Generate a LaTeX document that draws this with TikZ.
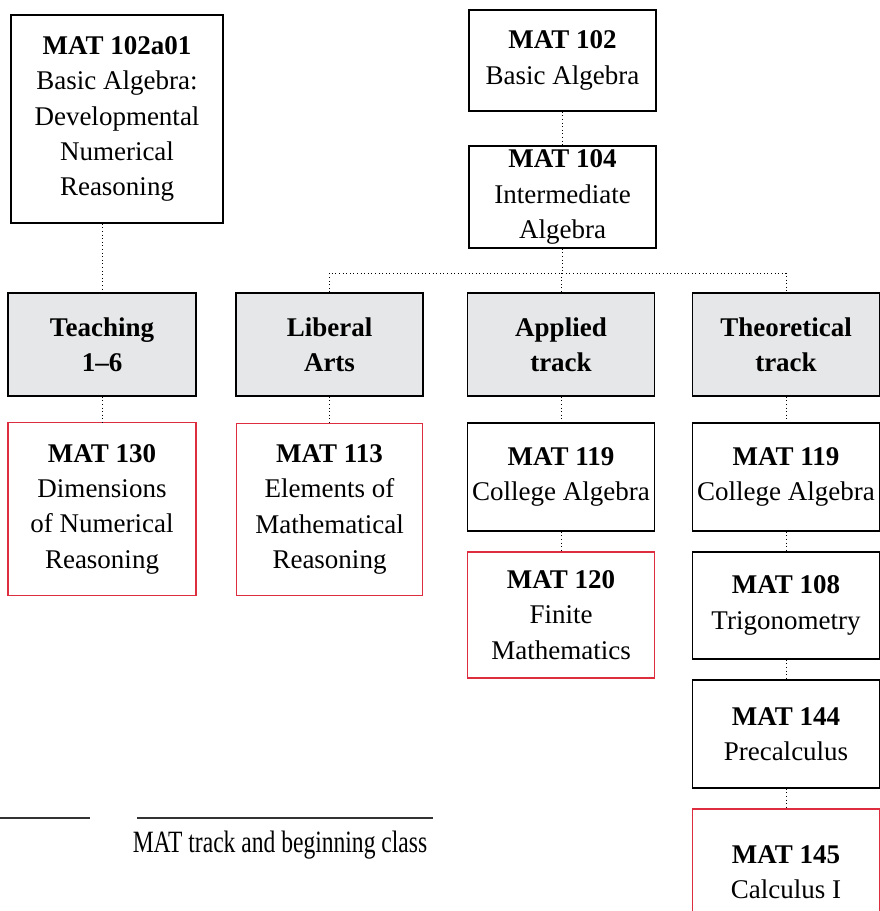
\documentclass[tikz,border=0pt]{standalone}
\usepackage{fontspec}
\setmainfont{Liberation Serif}
\usepackage{xcolor}
\usepackage{tikz}

\definecolor{trackgray}{RGB}{230,231,232}
\definecolor{firstred}{RGB}{222,45,62}
\newcommand{\coursefont}{\fontsize{20.25pt}{26.5pt}\selectfont}

\begin{document}
\begin{tikzpicture}[x=0.75pt, y=-0.75pt,
    coursebox/.style={draw=black, line width=1.1pt, align=center, inner sep=0pt,
      minimum width=#1, font=\coursefont},
    coursebox/.default=140pt,
    trackbox/.style={coursebox=#1, fill=trackgray, font=\coursefont\bfseries},
    trackbox/.default=140pt,
    firstbox/.style={coursebox=#1, draw=firstred, line width=0.9pt},
    firstbox/.default=140pt,
    link/.style={dotted, line width=0.7pt}]
    \useasboundingbox (0,0) rectangle (880,911);
    \clip (0,0) rectangle (880,911);
    % top row
    \node[coursebox=159pt, minimum height=156pt] (a01) at (117,119)
      {\textbf{MAT 102a01}\\Basic Algebra:\\Developmental\\Numerical\\Reasoning};
    \node[coursebox, minimum height=75.75pt] (b102) at (562.5,60.5)
      {\textbf{MAT 102}\\Basic Algebra};
    \node[coursebox, minimum height=76.5pt] (b104) at (562.5,197)
      {\textbf{MAT 104}\\Intermediate\\Algebra};
    % tracks
    \node[trackbox=141pt, minimum height=77.25pt] (teach) at (102,344.5) {Teaching\\1--6};
    \node[trackbox, minimum height=77.25pt] (liberal) at (329.5,344.5) {Liberal\\Arts};
    \node[trackbox, minimum height=77.25pt] (applied) at (561,344.5) {Applied\\track};
    \node[trackbox, minimum height=77.25pt] (theory) at (786,344.5) {Theoretical\\track};
    % courses
    \node[firstbox=141pt, minimum height=129.4pt] (c130) at (102,509)
      {\textbf{MAT 130}\\Dimensions\\of Numerical\\Reasoning};
    \node[firstbox, minimum height=129.4pt] (c113) at (329.5,509.5)
      {\textbf{MAT 113}\\Elements of\\Mathematical\\Reasoning};
    \node[coursebox, minimum height=81pt] (c119a) at (561,477)
      {\textbf{MAT 119}\\College Algebra};
    \node[firstbox, minimum height=94.5pt] (c120) at (561,615)
      {\textbf{MAT 120}\\Finite\\Mathematics};
    \node[coursebox, minimum height=81pt] (c119t) at (786,477)
      {\textbf{MAT 119}\\College Algebra};
    \node[coursebox, minimum height=80.25pt] (c108) at (786,605.5)
      {\textbf{MAT 108}\\Trigonometry};
    \node[coursebox, minimum height=81pt] (c144) at (786,734)
      {\textbf{MAT 144}\\Precalculus};
    \node[firstbox, minimum height=95.25pt] (c145) at (786,872.5)
      {\textbf{MAT 145}\\Calculus I};
    % links
    \coordinate (split) at (563,273);
    \draw[link] (b102) -- (b104);
    \draw[link] (b104.south) -- (b104.south |- split);
    \draw[link] (liberal.north) -- (liberal.north |- split) -- (theory.north |- split) -- (theory.north);
    \draw[link] (applied.north |- split) -- (applied.north);
    \draw[link] (a01.south -| teach.north) -- (teach.north);
    \draw[link] (teach) -- (c130);
    \draw[link] (liberal) -- (c113);
    \draw[link] (applied) -- (c119a);
    \draw[link] (c119a) -- (c120);
    \draw[link] (theory) -- (c119t);
    \draw[link] (c119t) -- (c108);
    \draw[link] (c108) -- (c144);
    \draw[link] (c144) -- (c145);
    % key
    \draw[line width=0.8pt, black!80] (0,818) -- (90,818);
    \draw[line width=0.8pt, black!80] (137,818) -- (433,818);
    \node[font=\fontsize{23.25pt}{28pt}\selectfont, xscale=0.76, transform shape,
      inner sep=0pt] (key) at (280,845) {MAT track and beginning class};
\end{tikzpicture}
\end{document}
